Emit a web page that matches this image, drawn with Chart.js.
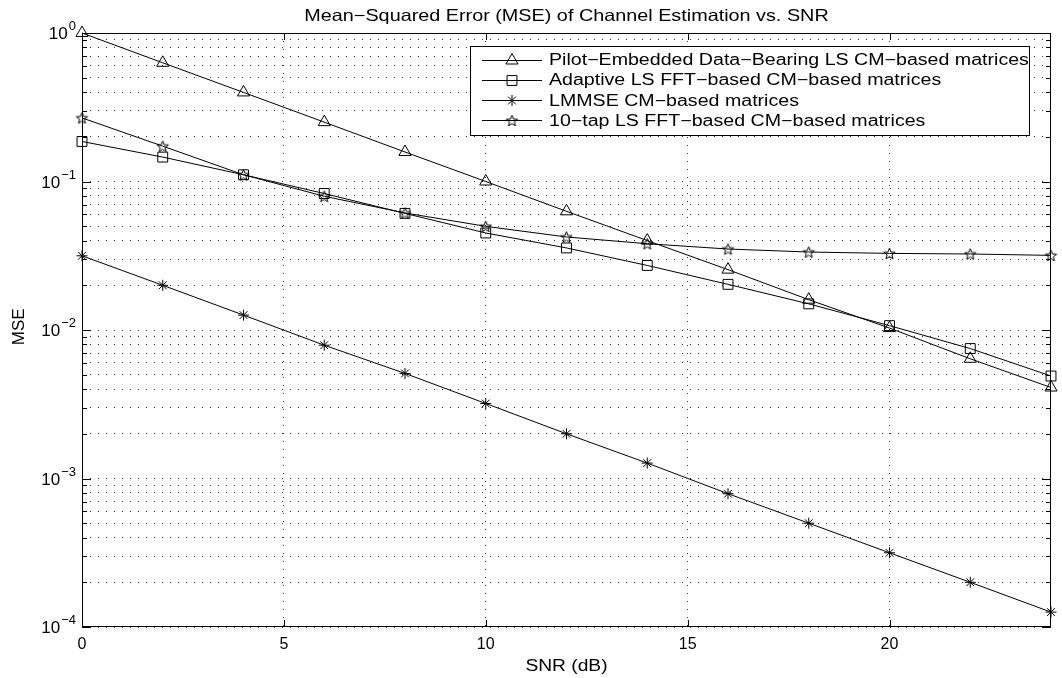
<!DOCTYPE html>
<html>
<head>
<meta charset="utf-8">
<script src="https://cdn.jsdelivr.net/npm/chart.js@4.4.1/dist/chart.umd.min.js"></script>
<style>
  html, body { margin: 0; padding: 0; background: #fff; }
  #wrap { width: 1062px; height: 678px; }
</style>
</head>
<body>
<div id="wrap"><canvas id="mseChart"></canvas></div>
<script>
// ── data ───────────────────────────────────────────
const snr        = [0, 2, 4, 6, 8, 10, 12, 14, 16, 18, 20, 22, 24];
const pilotMse   = [1.0, 0.63, 0.398, 0.251, 0.158, 0.1, 0.063, 0.040, 0.0255, 0.016, 0.0103, 0.0064, 0.0041];
const adaptMse   = [0.186, 0.146, 0.111, 0.083, 0.061, 0.045, 0.0357, 0.0272, 0.0203, 0.015, 0.0107, 0.0075, 0.0049];
const lmmseMse   = [0.0316, 0.02, 0.0126, 0.0079, 0.0051, 0.0032, 0.002, 0.00127, 0.00079, 0.0005, 0.000316, 0.0002, 0.000126];
const tapMse     = [0.268, 0.173, 0.111, 0.0795, 0.0614, 0.0499, 0.0423, 0.0381, 0.0351, 0.0335, 0.0328, 0.0325, 0.0318];
const seriesNames = [
  'Pilot−Embedded Data−Bearing LS CM−based matrices',
  'Adaptive LS FFT−based CM−based matrices',
  'LMMSE CM−based matrices',
  '10−tap LS FFT−based CM−based matrices'
];
const xTicks     = [0, 5, 10, 15, 20];
const yDecades   = [-4, -3, -2, -1, 0];
const titleText  = 'Mean−Squared Error (MSE) of Channel Estimation vs. SNR';
const xTitle     = 'SNR (dB)';
const yTitle     = 'MSE';

const FONT = '"Liberation Sans", Arial, Helvetica, sans-serif';

// pentagram marker (MATLAB 'p')
function makePentagram(r) {
  const c = document.createElement('canvas');
  const s = Math.ceil(r * 2 + 3);
  c.width = s; c.height = s;
  const g = c.getContext('2d');
  g.strokeStyle = '#000';
  g.lineWidth = 1;
  g.beginPath();
  for (let i = 0; i < 10; i++) {
    const rad = (i % 2 === 0) ? r : r * 0.42;
    const a = -Math.PI / 2 + i * Math.PI / 5;
    const px = s / 2 + Math.cos(a) * rad, py = s / 2 + Math.sin(a) * rad + 0.6;
    i === 0 ? g.moveTo(px, py) : g.lineTo(px, py);
  }
  g.closePath();
  g.stroke();
  return c;
}
const pentagram = makePentagram(6);

const markerStyles = ['triangle', 'rect', 'star', pentagram];
const markerRadius = [7, 7, 5.5, 6];

const toPoints = arr => snr.map((x, i) => ({ x, y: arr[i] }));

// y tick values: 1..9 x 10^k
const yTickVals = [];
for (let k = -4; k < 0; k++) for (let m = 1; m < 10; m++) yTickVals.push(m * Math.pow(10, k));
yTickVals.push(1);

// the figure's text is a bit wider than Arial
function stretchedText(ctx, text, x, y, align, stretch) {
  const w = ctx.measureText(text).width * stretch;
  const left = align === 'center' ? x - w / 2 : x;
  ctx.save();
  ctx.textAlign = 'left';
  ctx.translate(left, y);
  ctx.scale(stretch, 1);
  ctx.fillText(text, 0, 0);
  ctx.restore();
}

// ── frame, inward ticks, labels, legend ───────────
const matlabAxes = {
  id: 'matlabAxes',
  afterDraw(chart) {
    const { ctx, chartArea: a, scales: { x, y } } = chart;
    ctx.save();
    ctx.strokeStyle = '#000';
    ctx.lineWidth = 1;
    ctx.strokeRect(a.left + 0.5, a.top + 0.5, a.right - a.left - 1, a.bottom - a.top - 1);

    ctx.beginPath();
    yTickVals.forEach(v => {
      const py = Math.round(y.getPixelForValue(v)) + 0.5;
      const major = Math.abs(Math.log10(v) - Math.round(Math.log10(v))) < 1e-9;
      const len = major ? 9 : 5;
      ctx.moveTo(a.left, py); ctx.lineTo(a.left + len, py);
      ctx.moveTo(a.right, py); ctx.lineTo(a.right - len, py);
    });
    xTicks.forEach(v => {
      const px = Math.round(x.getPixelForValue(v)) + 0.5;
      ctx.moveTo(px, a.bottom); ctx.lineTo(px, a.bottom - 7);
      ctx.moveTo(px, a.top); ctx.lineTo(px, a.top + 7);
    });
    ctx.stroke();

    // y labels 10^k
    ctx.fillStyle = '#000';
    ctx.textBaseline = 'alphabetic';
    yDecades.forEach(k => {
      const py = y.getPixelForValue(Math.pow(10, k));
      const exp = k === 0 ? '0' : '−' + Math.abs(k);
      ctx.font = '13px ' + FONT;
      const ew = ctx.measureText(exp).width;
      ctx.textAlign = 'right';
      ctx.fillText(exp, 76, py - 3);
      ctx.font = '17px ' + FONT;
      ctx.fillText('10', 75 - ew, py + 6);
    });

    // titles
    ctx.font = '16.5px ' + FONT;
    stretchedText(ctx, titleText, (a.left + a.right) / 2, 21, 'center', 1.2);
    ctx.font = '16px ' + FONT;
    stretchedText(ctx, xTitle, (a.left + a.right) / 2, 671, 'center', 1.2);
    ctx.save();
    ctx.font = '17px ' + FONT;
    ctx.textAlign = 'center';
    ctx.translate(24, y.getPixelForValue(0.0105));
    ctx.rotate(-Math.PI / 2);
    ctx.fillText(yTitle, 0, 0);
    ctx.restore();

    // legend box
    const bx = 470, by = 46, bw = 559, bh = 89;
    ctx.fillStyle = '#fff';
    ctx.fillRect(bx, by, bw, bh);
    ctx.strokeRect(bx + 0.5, by + 0.5, bw, bh);
    ctx.font = '16px ' + FONT;
    ctx.textBaseline = 'middle';
    chart.data.datasets.forEach((ds, i) => {
      const ry = 59.5 + i * 20.3;
      ctx.beginPath();
      ctx.moveTo(482, Math.round(ry) + 0.5);
      ctx.lineTo(542, Math.round(ry) + 0.5);
      ctx.stroke();
      ctx.fillStyle = 'rgba(0,0,0,0)';
      Chart.helpers.drawPoint(ctx, {
        pointStyle: ds.pointStyle, radius: ds.pointRadius, borderWidth: 1, rotation: 0
      }, 512, Math.round(ry) + 0.5);
      ctx.fillStyle = '#000';
      stretchedText(ctx, ds.label, 549, ry + 1, 'left', 1.225);
    });
    ctx.restore();
  }
};

const datasets = [pilotMse, adaptMse, lmmseMse, tapMse].map((arr, i) => ({
  label: seriesNames[i],
  data: toPoints(arr),
  borderColor: '#000',
  borderWidth: 1,
  backgroundColor: 'transparent',
  pointStyle: markerStyles[i],
  pointRadius: markerRadius[i],
  pointBorderColor: '#000',
  pointBackgroundColor: 'transparent',
  pointBorderWidth: 1,
  tension: 0,
  clip: false
}));

new Chart(document.getElementById('mseChart'), {
  type: 'line',
  data: { datasets },
  plugins: [matlabAxes],
  options: {
    responsive: true,
    maintainAspectRatio: false,
    animation: false,
    devicePixelRatio: 1,
    layout: { padding: { top: 33, right: 11, left: 0, bottom: 0 } },
    plugins: { legend: { display: false }, tooltip: { enabled: false } },
    scales: {
      x: {
        type: 'linear', min: 0, max: 24,
        afterBuildTicks: s => { s.ticks = xTicks.map(v => ({ value: v })); },
        afterFit: s => { s.height = 51; },
        grid: { color: '#333', drawTicks: false, lineWidth: 1 },
        border: { display: false, dash: [1, 7] },
        ticks: { color: '#000', padding: 8, font: { family: FONT, size: 16 }, autoSkip: false, maxRotation: 0 }
      },
      y: {
        type: 'logarithmic', min: 1e-4, max: 1,
        afterBuildTicks: s => { s.ticks = yTickVals.map(v => ({ value: v })); },
        afterFit: s => { s.width = 82; },
        grid: { color: '#333', drawTicks: false, lineWidth: 1 },
        border: { display: false, dash: [1, 7] },
        ticks: { callback: () => '', autoSkip: false, padding: 0 }
      }
    }
  }
});
</script>
</body>
</html>
